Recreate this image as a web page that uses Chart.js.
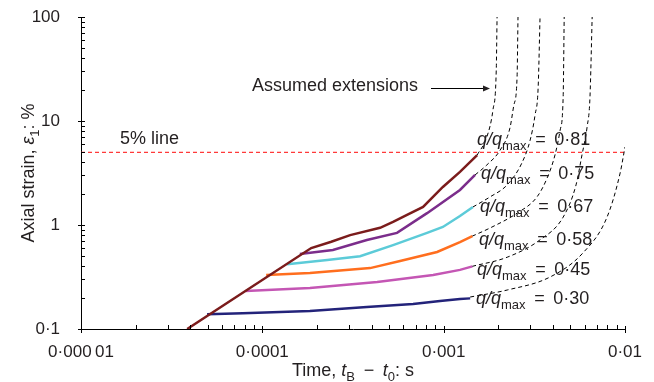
<!DOCTYPE html>
<html>
<head>
<meta charset="utf-8">
<script src="https://cdn.jsdelivr.net/npm/chart.js@4"></script>
<style>
  html, body { margin: 0; padding: 0; background: #fff; }
  #wrap { width: 654px; height: 382px; position: relative; }
</style>
</head>
<body>
<div id="wrap"><canvas id="chart"></canvas></div>
<script>
// tick labels
var xTickLabels = ['0·000\u200901', '0·0001', '0·001', '0·01'];
var yTickLabels = ['0·1', '1', '10', '100'];
var ratioLabels = ['0·81', '0·75', '0·67', '0·58', '0·45', '0·30'];

// measured curves: time t_B - t_0 (s) and axial strain (%)
var t081 = [3.85e-5, 1.86e-4, 2.4e-4, 3.05e-4, 4.46e-4, 5.26e-4, 6.28e-4, 7.7e-4, 9.9e-4, 1.23e-3, 1.53e-3];
var e081 = [0.1, 0.60, 0.69, 0.80, 0.94, 1.07, 1.25, 1.49, 2.32, 3.24, 4.7];
var t075 = [1.61e-4, 2.45e-4, 3.77e-4, 5.53e-4, 8.1e-4, 1.23e-3, 1.49e-3];
var e075 = [0.526, 0.575, 0.718, 0.84, 1.30, 2.17, 3.03];
var t067 = [1.37e-4, 2.28e-4, 3.46e-4, 5.26e-4, 8.1e-4, 9.9e-4, 1.23e-3, 1.45e-3];
var e067 = [0.42, 0.46, 0.50, 0.64, 0.84, 0.957, 1.22, 1.49];
var t058 = [1.05e-4, 1.83e-4, 3.93e-4, 5.75e-4, 9.2e-4, 1.23e-3, 1.44e-3];
var e058 = [0.33, 0.345, 0.385, 0.45, 0.55, 0.685, 0.78];
var t045 = [8.1e-5, 1.83e-4, 4.3e-4, 8.75e-4, 1.23e-3, 1.44e-3];
var e045 = [0.232, 0.248, 0.283, 0.33, 0.37, 0.40];
var t030 = [4.96e-5, 7.8e-5, 1.83e-4, 3.77e-4, 6.78e-4, 9.55e-4, 1.23e-3, 1.40e-3];
var e030 = [0.139, 0.142, 0.149, 0.163, 0.174, 0.186, 0.194, 0.197];

// assumed extensions (dashed)
var tx081 = [1.53e-3, 1.73e-3, 1.87e-3, 1.95e-3, 1.97e-3];
var ex081 = [4.71, 7.02, 12.8, 30.9, 100];
var tx075 = [1.49e-3, 1.73e-3, 2.05e-3, 2.32e-3, 2.44e-3, 2.54e-3, 2.57e-3];
var ex075 = [3.03, 3.78, 5.26, 8.56, 14.3, 26.5, 100];
var tx067 = [1.45e-3, 1.80e-3, 2.24e-3, 2.70e-3, 3.00e-3, 3.19e-3, 3.32e-3, 3.40e-3];
var ex067 = [1.49, 1.86, 2.43, 3.95, 6.57, 11.4, 21.2, 100];
var tx058 = [1.435e-3, 1.80e-3, 2.54e-3, 3.27e-3, 3.72e-3, 4.11e-3, 4.39e-3, 4.56e-3, 4.62e-3];
var ex058 = [0.78, 0.935, 1.30, 1.86, 2.83, 4.71, 8.19, 17.0, 100];
var tx045 = [1.435e-3, 2.24e-3, 3.40e-3, 4.56e-3, 5.37e-3, 5.79e-3, 6.18e-3, 6.41e-3, 6.59e-3];
var ex045 = [0.40, 0.49, 0.72, 1.19, 2.43, 4.71, 8.75, 17.0, 100];
var tx030 = [1.40e-3, 2.24e-3, 3.86e-3, 5.87e-3, 7.96e-3, 9.40e-3, 1.0e-2];
var ex030 = [0.203, 0.237, 0.316, 0.54, 1.19, 3.16, 5.62];

// 5% reference line
var tLine5 = [1e-5, 1e-2];
var eLine5 = [5, 5];

var FONT = "'Liberation Sans', Arial, sans-serif";
var TEXT = '#231f20';

function pts(ts, es) {
    var out = [];
    for (var i = 0; i < ts.length; i++) {
        out.push({ x: ts[i], y: es[i] });
    }
    return out;
}

function solid(ts, es, color) {
    return {
        data: pts(ts, es),
        borderColor: color,
        borderWidth: 2.5,
        pointRadius: 0,
        tension: 0
    };
}

function dashed(ts, es) {
    return {
        data: pts(ts, es),
        borderColor: '#000',
        borderWidth: 1,
        borderDash: [4, 3],
        pointRadius: 0,
        cubicInterpolationMode: 'monotone'
    };
}

function fontFor(p, size) {
    var s = p.sub ? Math.round(size * 0.72) : size;
    return (p.italic ? 'italic ' : '') + s + 'px ' + FONT;
}

// draw a run of text pieces (italic / subscript) starting at x, centred on y
function drawRich(ctx, parts, x, y, size, align) {
    var w = 0;
    parts.forEach(function(p) {
        ctx.font = fontFor(p, size);
        w += ctx.measureText(p.t).width;
    });
    var cx = x;
    if (align === 'center') cx = x - w / 2;
    if (align === 'right') cx = x - w;
    ctx.textAlign = 'left';
    ctx.textBaseline = 'middle';
    parts.forEach(function(p) {
        ctx.font = fontFor(p, size);
        ctx.fillText(p.t, cx, y + (p.sub ? size * 0.38 : 0));
        cx += ctx.measureText(p.t).width;
    });
}

var labelPos = [[477, 140], [481, 174], [480, 207], [479, 240], [477, 270], [476, 299]];

var extras = {
    id: 'extras',
    afterDatasetsDraw: function(chart) {
        var ctx = chart.ctx;
        var xs = chart.scales.x;
        var ys = chart.scales.y;
        var a = chart.chartArea;
        ctx.save();
        ctx.strokeStyle = '#000';
        ctx.lineWidth = 1;
        ctx.beginPath();
        // x ticks
        for (var d = -5; d <= -2; d++) {
            for (var m = 1; m <= 9; m++) {
                var v = m * Math.pow(10, d);
                if (v > 1.0001e-2) break;
                var px = Math.round(xs.getPixelForValue(v)) + 0.5;
                if (m === 1) {
                    ctx.moveTo(px, a.bottom - 3);
                    ctx.lineTo(px, a.bottom + 4);
                } else {
                    ctx.moveTo(px, a.bottom);
                    ctx.lineTo(px, a.bottom - 4);
                }
            }
        }
        // y ticks
        for (var d2 = -1; d2 <= 2; d2++) {
            for (var m2 = 1; m2 <= 9; m2++) {
                var v2 = m2 * Math.pow(10, d2);
                if (v2 > 100.01) break;
                var py = Math.round(ys.getPixelForValue(v2)) + 0.5;
                if (m2 === 1) {
                    ctx.moveTo(a.left - 3, py);
                    ctx.lineTo(a.left + 4, py);
                } else {
                    ctx.moveTo(a.left, py);
                    ctx.lineTo(a.left + 4, py);
                }
            }
        }
        ctx.stroke();

        ctx.fillStyle = TEXT;
        // 5% line label
        drawRich(ctx, [{ t: '5% line' }], 120, 139, 18, 'left');

        // assumed extensions + arrow
        drawRich(ctx, [{ t: 'Assumed extensions' }], 252, 86, 18, 'left');
        ctx.beginPath();
        ctx.moveTo(431, 88.5);
        ctx.lineTo(484, 88.5);
        ctx.stroke();
        ctx.beginPath();
        ctx.moveTo(490, 88.5);
        ctx.lineTo(483, 85.5);
        ctx.lineTo(483, 91.5);
        ctx.closePath();
        ctx.fill();

        // q/qmax labels
        ratioLabels.forEach(function(r, i) {
            drawRich(ctx, [
                { t: 'q/q', italic: true },
                { t: 'max', sub: true },
                { t: ' \u2009=\u2009 ' + r }
            ], labelPos[i][0], labelPos[i][1], 18, 'left');
        });

        // axis titles
        drawRich(ctx, [
            { t: 'Time, ' },
            { t: 't', italic: true },
            { t: 'B', sub: true },
            { t: ' \u2009−\u2009 ' },
            { t: 't', italic: true },
            { t: '0', sub: true },
            { t: ': s' }
        ], 353, 371, 18, 'center');

        ctx.translate(29, 173);
        ctx.rotate(-Math.PI / 2);
        drawRich(ctx, [
            { t: 'Axial strain, ' },
            { t: 'ε', italic: true },
            { t: '1', sub: true },
            { t: ': %' }
        ], 0, 0, 18, 'center');
        ctx.restore();
    }
};

function majorLabel(value, labels, first) {
    var lg = Math.log10(value);
    var e = Math.round(lg);
    if (Math.abs(lg - e) > 1e-6) return '';
    var idx = e - first;
    return labels[idx] !== undefined ? labels[idx] : '';
}

var ctx = document.getElementById('chart').getContext('2d');
new Chart(ctx, {
    type: 'line',
    data: {
        datasets: [
            solid(t081, e081, '#7b1c1c'),
            solid(t075, e075, '#7b2d8b'),
            solid(t067, e067, '#5ccbd8'),
            solid(t058, e058, '#ff6e1e'),
            solid(t045, e045, '#c456b4'),
            solid(t030, e030, '#23237a'),
            dashed(tx081, ex081),
            dashed(tx075, ex075),
            dashed(tx067, ex067),
            dashed(tx058, ex058),
            dashed(tx045, ex045),
            dashed(tx030, ex030),
            {
                data: pts(tLine5, eLine5),
                borderColor: '#ff3a3a',
                borderWidth: 1.2,
                borderDash: [4, 3],
                pointRadius: 0
            }
        ]
    },
    options: {
        responsive: true,
        maintainAspectRatio: false,
        animation: false,
        devicePixelRatio: 1,
        layout: { padding: { left: 0, right: 29, top: 17, bottom: 0 } },
        plugins: { legend: { display: false }, tooltip: { enabled: false } },
        scales: {
            x: {
                type: 'logarithmic',
                min: 1e-5,
                max: 1e-2,
                grid: { display: false },
                border: { display: true, color: '#000', width: 1 },
                afterFit: function(s) {
                    s.height = 53;
                    s.paddingLeft = 0; s.paddingRight = 0;
                    s.paddingTop = 0; s.paddingBottom = 0;
                },
                ticks: {
                    autoSkip: false,
                    maxRotation: 0,
                    padding: 5,
                    color: TEXT,
                    font: { family: FONT, size: 17 },
                    callback: function(v) { return majorLabel(v, xTickLabels, -5); }
                }
            },
            y: {
                type: 'logarithmic',
                min: 0.1,
                max: 100,
                grid: { display: false },
                border: { display: true, color: '#000', width: 1 },
                afterFit: function(s) {
                    s.width = 81;
                    s.paddingLeft = 0; s.paddingRight = 0;
                    s.paddingTop = 0; s.paddingBottom = 0;
                },
                ticks: {
                    autoSkip: false,
                    padding: 13,
                    color: TEXT,
                    font: { family: FONT, size: 17 },
                    callback: function(v) { return majorLabel(v, yTickLabels, -1); }
                }
            }
        }
    },
    plugins: [extras]
});
</script>
</body>
</html>
